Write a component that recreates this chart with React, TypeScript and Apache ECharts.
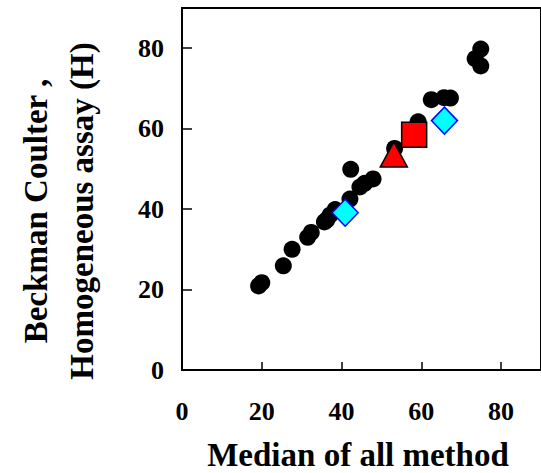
import React, { useEffect, useRef } from "react";
import * as echarts from "echarts";

const circleX = [19.2, 20.0, 25.4, 27.6, 31.5, 32.4, 35.7, 36.3, 37.1, 38.4, 42.1, 42.3, 44.6, 45.8, 47.9, 53.3, 59.2, 62.5, 65.7, 67.3, 73.5, 74.9, 74.9];
const circleY = [20.9, 21.7, 25.9, 30.0, 33.0, 34.2, 36.8, 37.3, 38.5, 39.9, 42.5, 49.9, 45.5, 46.4, 47.5, 55.1, 61.7, 67.2, 67.7, 67.6, 77.4, 79.8, 75.6];
const squarePoint = [58.2, 58.5];
const trianglePoint = [53.1, 53.6];
const diamondX = [40.9, 65.8];
const diamondY = [39.1, 62.0];
const tickValues = [0, 20, 40, 60, 80];
const xTitle = "Median of all method";
const yTitle = "Beckman Coulter ,\nHomogeneous assay (H)";

const FONT = "'Liberation Serif', 'Times New Roman', serif";

export default function App() {
  const ref = useRef<HTMLDivElement>(null);
  useEffect(() => {
    if (!ref.current) return;
    const chart = echarts.init(ref.current, null, { renderer: "svg" });
    const labelStyle = {
      fontFamily: FONT,
      fontWeight: "bold" as const,
      fontSize: 26,
      color: "#000",
    };
    chart.setOption({
      animation: false,
      backgroundColor: "#fff",
      grid: {
        left: 182,
        top: 8,
        width: 362.7,
        height: 362,
        show: true,
        borderColor: "#000",
        borderWidth: 2,
        backgroundColor: "transparent",
      },
      xAxis: {
        type: "value",
        min: 0,
        max: 90,
        interval: 20,
        axisLine: { show: true, lineStyle: { color: "#000", width: 2 } },
        axisTick: { show: true, inside: true, length: 8, lineStyle: { color: "#000", width: 1.5 }, customValues: tickValues },
        axisLabel: { ...labelStyle, margin: 28, customValues: tickValues },
        splitLine: { show: false },
      },
      yAxis: {
        type: "value",
        min: 0,
        max: 90,
        interval: 20,
        axisLine: { show: true, lineStyle: { color: "#000", width: 2 } },
        axisTick: { show: true, inside: true, length: 10, lineStyle: { color: "#000", width: 1.5 }, customValues: tickValues },
        axisLabel: { ...labelStyle, margin: 18, customValues: tickValues },
        splitLine: { show: false },
      },
      graphic: [
        {
          type: "text",
          x: 358,
          y: 455,
          style: {
            text: xTitle,
            font: `bold 33px ${FONT}`,
            fill: "#000",
            textAlign: "center",
            textVerticalAlign: "middle",
          },
        },
        {
          type: "text",
          x: 59,
          y: 211,
          rotation: Math.PI / 2,
          style: {
            text: yTitle,
            font: `bold 33px ${FONT}`,
            fill: "#000",
            textAlign: "center",
            textVerticalAlign: "middle",
            lineHeight: 46,
          },
        },
      ],
      series: [
        {
          type: "scatter",
          symbol: "circle",
          symbolSize: 17,
          itemStyle: { color: "#000", opacity: 1 },
          data: circleX.map((x, i) => [x, circleY[i]]),
          z: 2,
        },
        {
          type: "scatter",
          symbol: "triangle",
          symbolSize: [27, 25],
          itemStyle: { color: "#ff0000", borderColor: "#000", borderWidth: 1.5, opacity: 1 },
          data: [trianglePoint],
          z: 3,
        },
        {
          type: "scatter",
          symbol: "rect",
          symbolSize: 25,
          itemStyle: { color: "#ff0000", borderColor: "#000", borderWidth: 1.5, opacity: 1 },
          data: [squarePoint],
          z: 3,
        },
        {
          type: "scatter",
          symbol: "diamond",
          symbolSize: [26, 27],
          itemStyle: { color: "#00ffff", borderColor: "#0000ff", borderWidth: 1.5, opacity: 1 },
          data: diamondX.map((x, i) => [x, diamondY[i]]),
          z: 3,
        },
      ],
    });
    return () => chart.dispose();
  }, []);
  return <div ref={ref} style={{ width: 541, height: 473, position: "absolute", left: 0, top: 0 }} />;
}
